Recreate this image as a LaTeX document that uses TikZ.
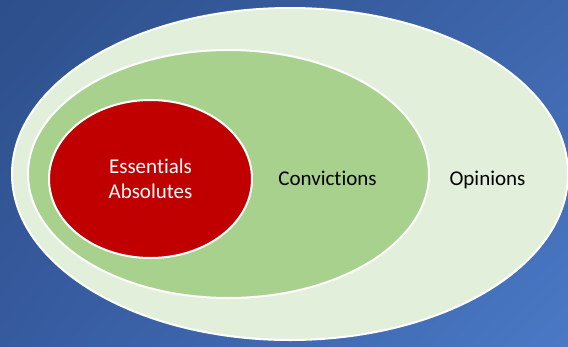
\documentclass[tikz,border=0pt]{standalone}
\usepackage{fontspec}
\setmainfont[Ligatures=NoCommon]{Carlito}
\usetikzlibrary{shapes.geometric,shadings}
\definecolor{bgTL}{RGB}{45,79,138}
\definecolor{bgTR}{RGB}{62,102,172}
\definecolor{bgBL}{RGB}{54,90,158}
\definecolor{bgBR}{RGB}{74,121,197}
\definecolor{outerfill}{RGB}{226,239,218}
\definecolor{midfill}{RGB}{169,209,142}
\definecolor{innerfill}{RGB}{192,0,0}
\tikzset{
  ring/.style={ellipse, draw=white, line width=2pt, inner sep=0pt, outer sep=0pt},
  lbl/.style={font=\fontsize{21}{25}\selectfont, inner sep=0pt, align=center}
}
\begin{document}
\begin{tikzpicture}[x=1pt,y=-1pt]
  \useasboundingbox (0,0) rectangle (568,346);
  \shade[upper left=bgTL, upper right=bgTR, lower left=bgBL, lower right=bgBR]
    (0,0) rectangle (568,346);
  \node[ring, fill=outerfill, minimum width=556pt, minimum height=332pt] (outer) at (290,174) {};
  \node[ring, fill=midfill, minimum width=401pt, minimum height=248pt] (mid) at (228.5,174) {};
  \node[ring, fill=innerfill, minimum width=203pt, minimum height=158pt,
        lbl, text=white] (inner) at (150.5,179) {Essentials\\Absolutes};
  \node[lbl, text=black, anchor=base] (conv) at (327.5,185) {Convictions};
  \node[lbl, text=black, anchor=base] (opin) at (487.5,185) {Opinions};
\end{tikzpicture}
\end{document}
